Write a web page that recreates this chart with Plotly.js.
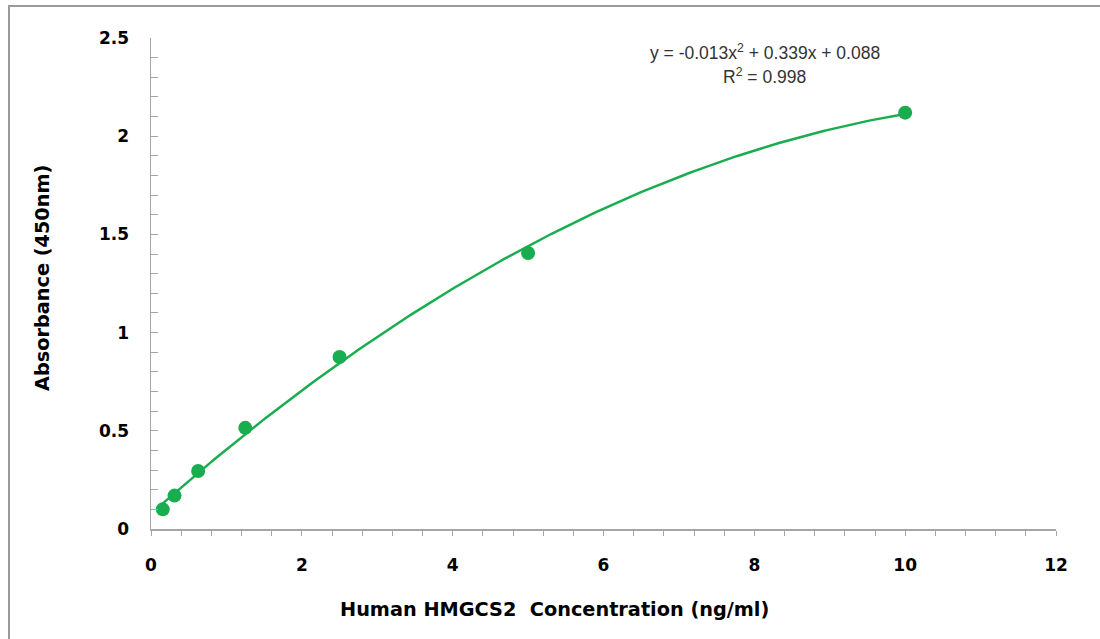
<!DOCTYPE html>
<html>
<head>
<meta charset="utf-8">
<script src="https://cdn.plot.ly/plotly-3.0.1.min.js"></script>
<style>html,body{margin:0;padding:0;background:#fff;}#chart{width:1100px;height:639px;}</style>
</head>
<body>
<div id="chart"></div>
<script>
// Data
const concentration = [0.156, 0.312, 0.625, 1.25, 2.5, 5, 10];
const absorbance = [0.10, 0.17, 0.295, 0.515, 0.876, 1.405, 2.12];
const xTickVals = [0, 2, 4, 6, 8, 10, 12];
const yTickVals = [0, 0.5, 1, 1.5, 2, 2.5];
const equationText = 'y = -0.013x<sup>2</sup> + 0.339x + 0.088';
const r2Text = 'R<sup>2</sup> = 0.998';

// Least-squares quadratic trendline (as the spreadsheet does)
function quadFit(xs, ys) {
  let S = [0,0,0,0,0], T = [0,0,0];
  for (let i = 0; i < xs.length; i++) {
    let p = 1;
    for (let k = 0; k < 5; k++) { S[k] += p; if (k < 3) T[k] += p * ys[i]; p *= xs[i]; }
  }
  const A = [[S[0],S[1],S[2],T[0]],[S[1],S[2],S[3],T[1]],[S[2],S[3],S[4],T[2]]];
  for (let c = 0; c < 3; c++) {
    for (let r = c + 1; r < 3; r++) {
      const f = A[r][c] / A[c][c];
      for (let k = c; k < 4; k++) A[r][k] -= f * A[c][k];
    }
  }
  const s = [0,0,0];
  for (let r = 2; r >= 0; r--) {
    let v = A[r][3];
    for (let k = r + 1; k < 3; k++) v -= A[r][k] * s[k];
    s[r] = v / A[r][r];
  }
  return s; // c0, c1, c2
}
const coef = quadFit(concentration, absorbance);
const xMin = Math.min(...concentration), xMax = Math.max(...concentration);
const fitX = [], fitY = [];
for (let i = 0; i <= 200; i++) {
  const x = xMin + (xMax - xMin) * i / 200;
  fitX.push(x);
  fitY.push(coef[0] + coef[1] * x + coef[2] * x * x);
}

const green = '#19ad50';
const axisGray = '#a6a6a6';
const boldFamily = 'DejaVu Sans, Verdana, sans-serif';
const tickFont = {family: boldFamily, size: 17, color: '#000', weight: 'bold'};

const traces = [
  {x: fitX, y: fitY, mode: 'lines', line: {color: green, width: 2.5}, hoverinfo: 'skip', showlegend: false},
  {x: concentration, y: absorbance, mode: 'markers', marker: {color: green, size: 14}, showlegend: false}
];

const L = 151, R = 1056, T = 38, B = 529;
const W = R - L, H = B - T;
const px = v => (v - L) / W;
const py = v => (B - v) / H;

const layout = {
  width: 1100, height: 639,
  margin: {l: L, r: 1100 - R, t: T, b: 639 - B, pad: 0},
  paper_bgcolor: '#fff', plot_bgcolor: '#fff',
  showlegend: false,
  xaxis: {
    range: [0, 12], tickvals: xTickVals, showgrid: false, zeroline: false,
    showline: true, linecolor: axisGray, linewidth: 1.5,
    ticks: 'outside', ticklen: 5, tickcolor: axisGray, tickwidth: 1,
    minor: {dtick: 0.4, tick0: 0, ticks: 'outside', ticklen: 5, tickcolor: axisGray, tickwidth: 1, showgrid: false},
    tickfont: tickFont, ticklabelstandoff: 15
  },
  yaxis: {
    range: [0, 2.5], tickvals: yTickVals, showgrid: false, zeroline: false,
    showline: true, linecolor: axisGray, linewidth: 1.5,
    ticks: 'inside', ticklen: 7, tickcolor: axisGray, tickwidth: 1,
    minor: {dtick: 0.1, tick0: 0, ticks: 'inside', ticklen: 7, tickcolor: axisGray, tickwidth: 1, showgrid: false},
    tickfont: tickFont, ticklabelstandoff: 17
  },
  annotations: [
    {xref: 'paper', yref: 'paper', x: px(554), y: py(609), text: 'Human HMGCS2\u00a0 Concentration (ng/ml)',
     showarrow: false, xanchor: 'center', yanchor: 'middle',
     font: {family: boldFamily, size: 19.3, color: '#000', weight: 'bold'}},
    {xref: 'paper', yref: 'paper', x: px(42), y: py(278), text: 'Absorbance (450nm)', textangle: -90,
     showarrow: false, xanchor: 'center', yanchor: 'middle',
     font: {family: boldFamily, size: 19.3, color: '#000', weight: 'bold'}},
    {xref: 'paper', yref: 'paper', x: px(765), y: py(52), text: equationText,
     showarrow: false, xanchor: 'center', yanchor: 'middle',
     font: {family: 'Liberation Sans, Arial, sans-serif', size: 17.5, color: '#333'}},
    {xref: 'paper', yref: 'paper', x: px(764), y: py(76), text: r2Text,
     showarrow: false, xanchor: 'center', yanchor: 'middle',
     font: {family: 'Liberation Sans, Arial, sans-serif', size: 17.5, color: '#333'}}
  ],
  shapes: [
    {type: 'rect', xref: 'paper', yref: 'paper', x0: px(9), x1: px(1104), y0: py(645), y1: py(6),
     line: {color: '#9a9a9a', width: 2}, fillcolor: 'rgba(0,0,0,0)', layer: 'below'}
  ]
};

Plotly.newPlot('chart', traces, layout, {staticPlot: true, displayModeBar: false});
</script>
</body>
</html>
